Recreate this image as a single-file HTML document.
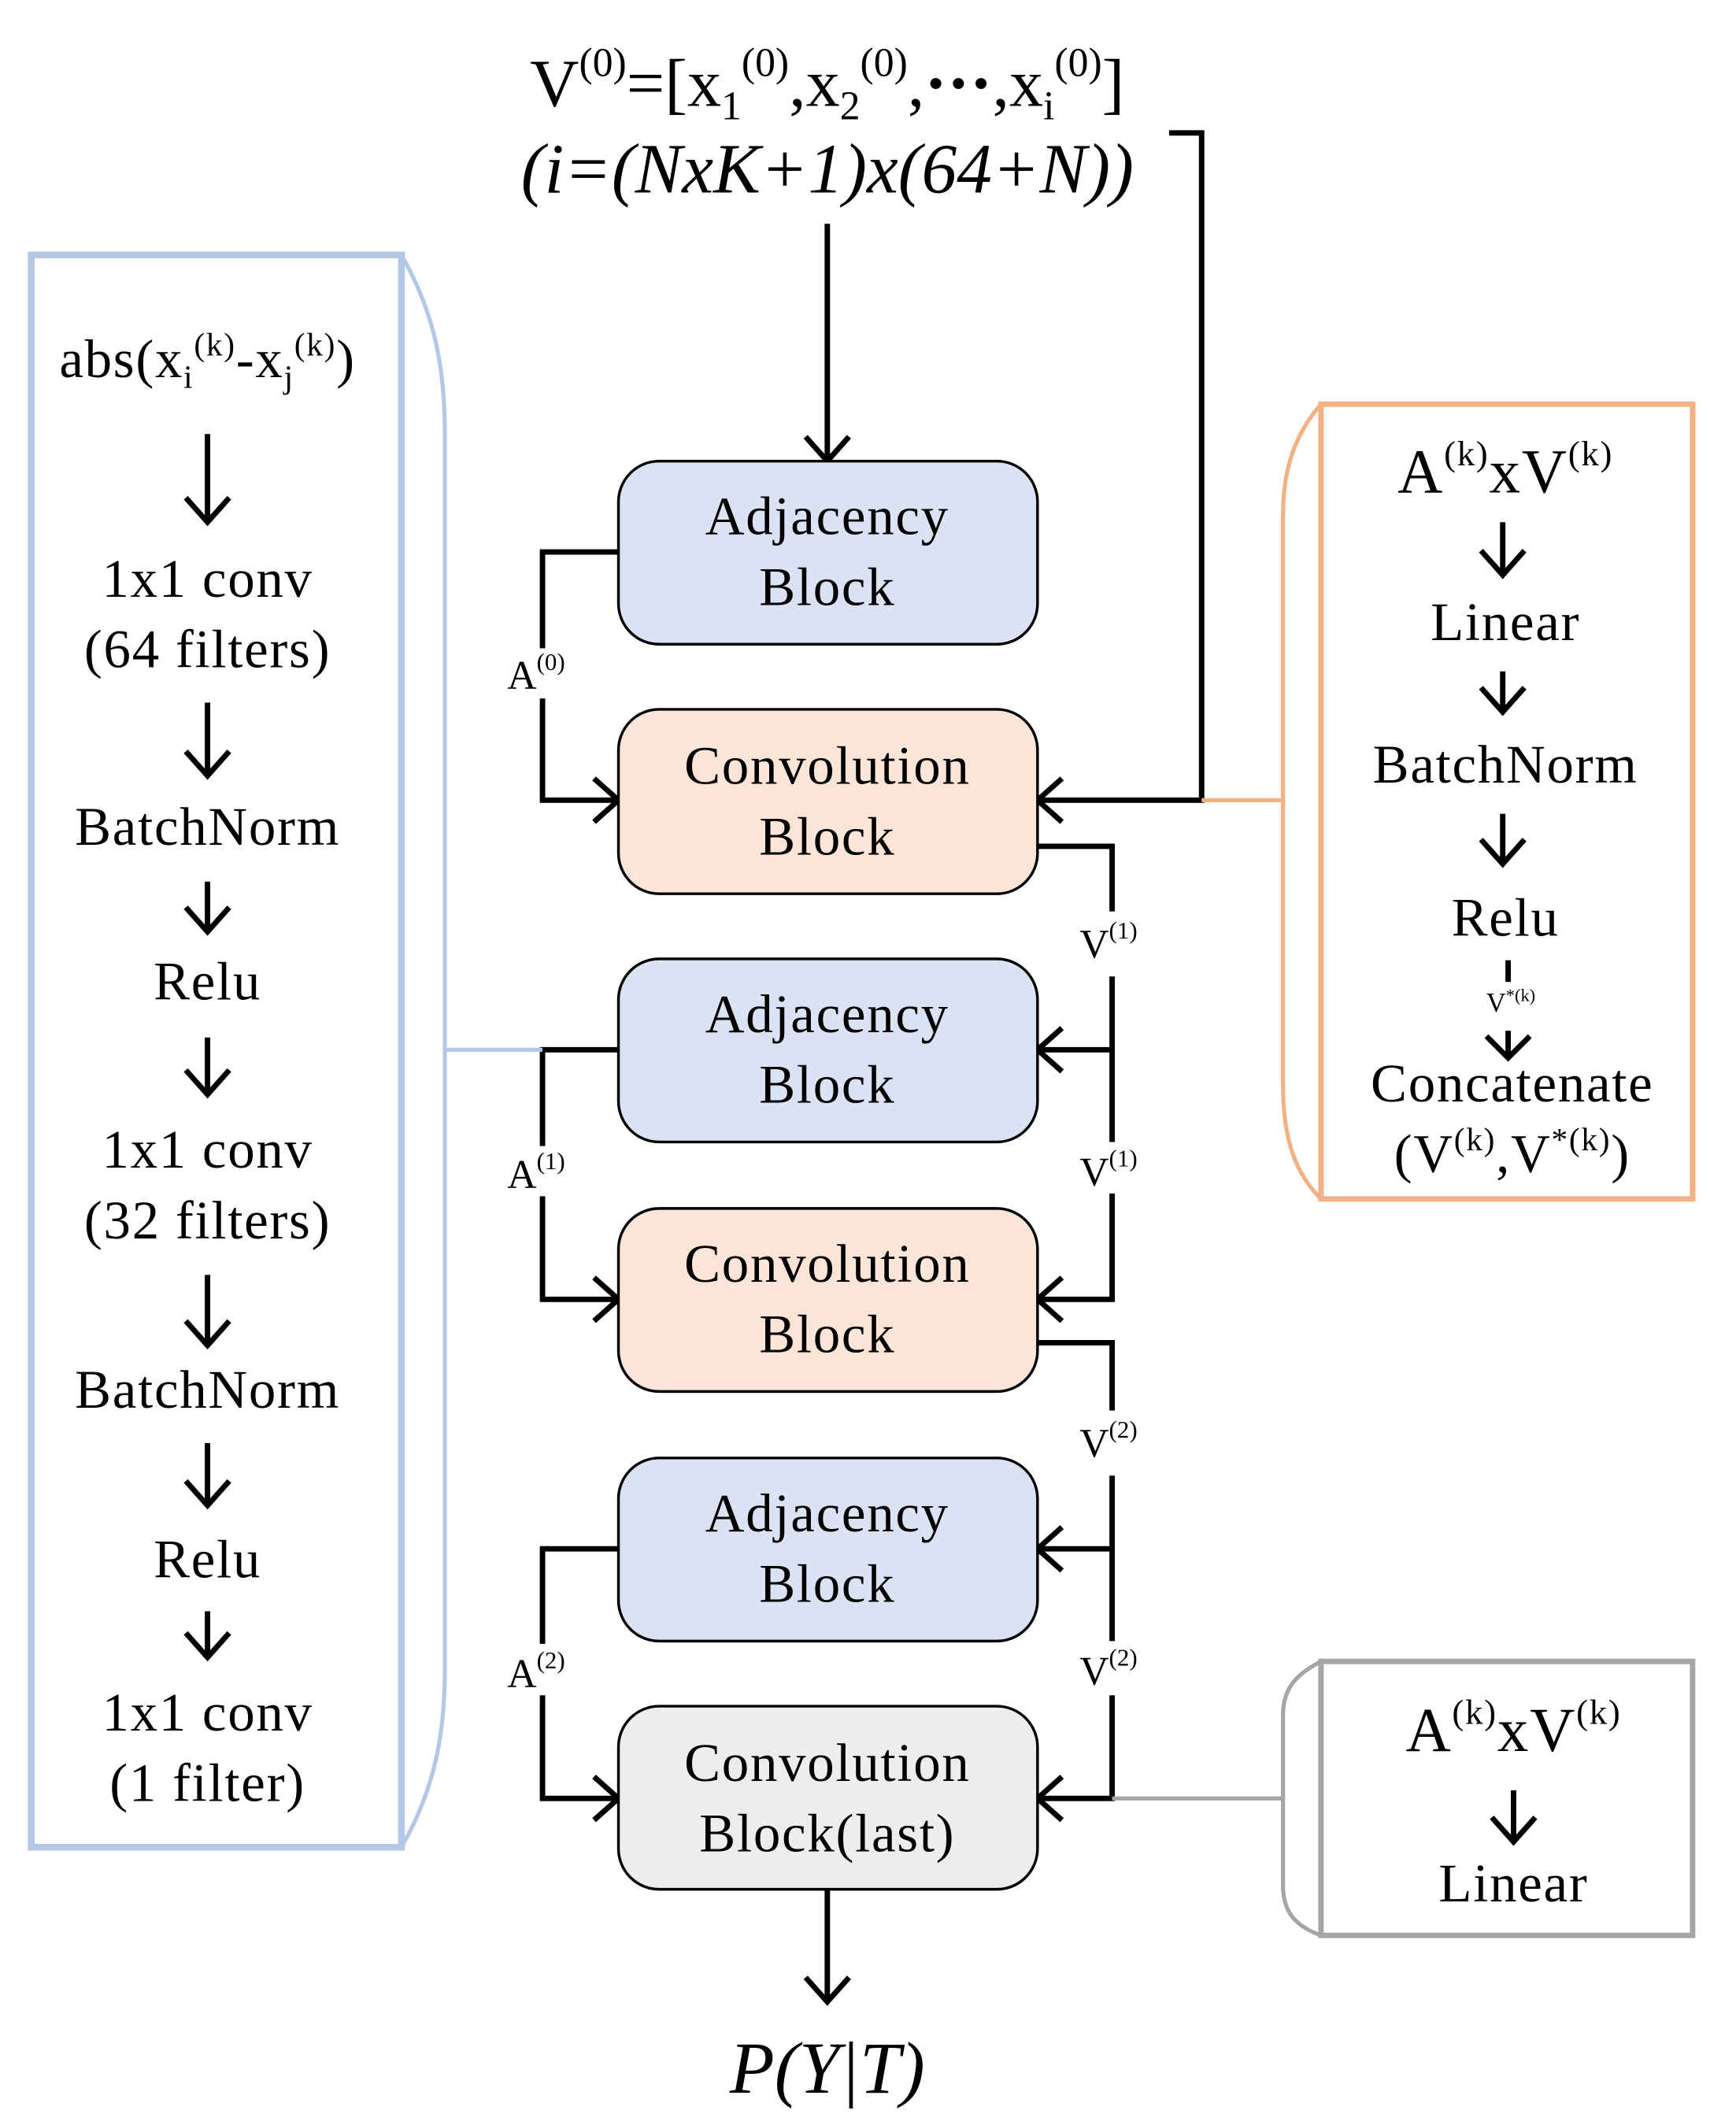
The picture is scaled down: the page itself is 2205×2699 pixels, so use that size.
<!DOCTYPE html>
<html><head><meta charset="utf-8"><style>
html,body{margin:0;padding:0;background:#fff;}
svg{display:block;}
text{font-family:"Liberation Serif",serif;fill:#000;}
</style></head><body>
<svg width="2205" height="2699" viewBox="0 0 1280 1566.8" xmlns="http://www.w3.org/2000/svg">
<g font-size="50" text-anchor="middle">
<text x="610" y="78">V<tspan font-size="30" dy="-22">(0)</tspan><tspan dy="22">=[x</tspan><tspan font-size="30" dy="10">1</tspan><tspan font-size="30" dy="-32">(0)</tspan><tspan dy="22">,x</tspan><tspan font-size="30" dy="10">2</tspan><tspan font-size="30" dy="-32">(0)</tspan><tspan dy="22">,<tspan font-weight="bold">···</tspan>,x</tspan><tspan font-size="30" dy="10">i</tspan><tspan font-size="30" dy="-32">(0)</tspan><tspan dy="22">]</tspan></text>
<text x="610" y="142" font-style="italic" font-size="52">(i=(NxK+1)x(64+N))</text>
</g>
<g fill="none" stroke="#000" stroke-width="4">
<line x1="610" y1="165" x2="610" y2="338"/><polyline points="594,322 610,340 626,322"/>
<polyline points="862,98 886,98 886,590 765,590"/><polyline points="783,574 765,590 783,606"/>
<polyline points="456,407 400,407 400,478"/><polyline points="400,515 400,590 454,590"/><polyline points="438,574 456,590 438,606"/>
<polyline points="456,774 400,774 400,845"/><polyline points="400,882 400,958 454,958"/><polyline points="438,942 456,958 438,974"/>
<polyline points="456,1142 400,1142 400,1212"/><polyline points="400,1250 400,1326 454,1326"/><polyline points="438,1310 456,1326 438,1342"/>
<polyline points="765,624 820,624 820,672"/>
<line x1="820" y1="720" x2="820" y2="842"/><line x1="820" y1="774" x2="767" y2="774"/><polyline points="783,758 765,774 783,790"/>
<polyline points="820,880 820,958 767,958"/><polyline points="783,942 765,958 783,974"/>
<polyline points="765,990 820,990 820,1040"/>
<line x1="820" y1="1088" x2="820" y2="1210"/><line x1="820" y1="1142" x2="767" y2="1142"/><polyline points="783,1126 765,1142 783,1158"/>
<polyline points="820,1250 820,1326 767,1326"/><polyline points="783,1310 765,1326 783,1342"/>
<line x1="610" y1="1393" x2="610" y2="1474"/><polyline points="594,1458 610,1476 626,1458"/>
</g>
<g stroke="#000" stroke-width="2">
<rect x="456" y="340" width="309" height="135" rx="30" fill="#dae3f3"/>
<rect x="456" y="523" width="309" height="136" rx="30" fill="#fbe5d6"/>
<rect x="456" y="707" width="309" height="135" rx="30" fill="#dae3f3"/>
<rect x="456" y="891" width="309" height="135" rx="30" fill="#fbe5d6"/>
<rect x="456" y="1075" width="309" height="135" rx="30" fill="#dae3f3"/>
<rect x="456" y="1258" width="309" height="135" rx="30" fill="#ededed"/>
</g>
<g font-size="40" text-anchor="middle" letter-spacing="1">
<text x="610" y="394">Adjacency</text><text x="610" y="446">Block</text>
<text x="610" y="578">Convolution</text><text x="610" y="630">Block</text>
<text x="610" y="761">Adjacency</text><text x="610" y="813">Block</text>
<text x="610" y="945">Convolution</text><text x="610" y="997">Block</text>
<text x="610" y="1129">Adjacency</text><text x="610" y="1181">Block</text>
<text x="610" y="1313">Convolution</text><text x="610" y="1365">Block(last)</text>
</g>
<g font-size="30">
<text x="374" y="508">A<tspan font-size="18" dy="-14">(0)</tspan></text>
<text x="374" y="876">A<tspan font-size="18" dy="-14">(1)</tspan></text>
<text x="374" y="1244">A<tspan font-size="18" dy="-14">(2)</tspan></text>
<text x="796" y="706">V<tspan font-size="18" dy="-14">(1)</tspan></text>
<text x="796" y="874">V<tspan font-size="18" dy="-14">(1)</tspan></text>
<text x="796" y="1074">V<tspan font-size="18" dy="-14">(2)</tspan></text>
<text x="796" y="1242">V<tspan font-size="18" dy="-14">(2)</tspan></text>
</g>
<text x="610" y="1543" font-size="54" font-style="italic" text-anchor="middle">P(Y|T)</text>
<g fill="none" stroke="#b4c7e7">
<rect x="23" y="188" width="273" height="1174" stroke-width="5"/>
<path d="M296,188 C320,230 328,270 328,320 L328,1230 C328,1280 320,1320 296,1362" stroke-width="3"/>
<line x1="328" y1="774" x2="400" y2="774" stroke-width="3"/>
</g>
<g font-size="40" text-anchor="middle" letter-spacing="1">
<text x="153" y="278">abs(x<tspan font-size="24" dy="8">i</tspan><tspan font-size="24" dy="-24">(k)</tspan><tspan dy="16">-x</tspan><tspan font-size="24" dy="8">j</tspan><tspan font-size="24" dy="-24">(k)</tspan><tspan dy="16">)</tspan></text>
<text x="153" y="440">1x1 conv</text><text x="153" y="492">(64 filters)</text>
<text x="153" y="623">BatchNorm</text>
<text x="153" y="737">Relu</text>
<text x="153" y="861">1x1 conv</text><text x="153" y="913">(32 filters)</text>
<text x="153" y="1038">BatchNorm</text>
<text x="153" y="1163">Relu</text>
<text x="153" y="1276">1x1 conv</text><text x="153" y="1328">(1 filter)</text>
</g>
<g fill="none" stroke="#000" stroke-width="4">
<line x1="153" y1="320" x2="153" y2="383"/><polyline points="137,367 153,385 169,367"/>
<line x1="153" y1="518" x2="153" y2="570"/><polyline points="137,554 153,572 169,554"/>
<line x1="153" y1="650" x2="153" y2="685"/><polyline points="137,669 153,687 169,669"/>
<line x1="153" y1="765" x2="153" y2="805"/><polyline points="137,789 153,807 169,789"/>
<line x1="153" y1="940" x2="153" y2="990"/><polyline points="137,974 153,992 169,974"/>
<line x1="153" y1="1064" x2="153" y2="1108"/><polyline points="137,1092 153,1110 169,1092"/>
<line x1="153" y1="1188" x2="153" y2="1220"/><polyline points="137,1204 153,1222 169,1204"/>
</g>
<g fill="none" stroke="#f4b183">
<rect x="974" y="298" width="274" height="586" stroke-width="4"/>
<path d="M974,298 C955,320 946,345 946,380 L946,800 C946,840 955,865 974,884" stroke-width="3"/>
<line x1="886" y1="590" x2="946" y2="590" stroke-width="3"/>
</g>
<g font-size="40" text-anchor="middle" letter-spacing="1">
<text x="1110" y="363" font-size="46">A<tspan font-size="26" dy="-20">(k)</tspan><tspan dy="20">xV</tspan><tspan font-size="26" dy="-20">(k)</tspan></text>
<text x="1110" y="472">Linear</text>
<text x="1110" y="577">BatchNorm</text>
<text x="1110" y="690">Relu</text>
<text x="1114" y="746" font-size="20" letter-spacing="0">V<tspan font-size="13" dy="-8">*(k)</tspan></text>
<text x="1115" y="812">Concatenate</text>
<text x="1115" y="864">(V<tspan font-size="24" dy="-16">(k)</tspan><tspan dy="16">,V</tspan><tspan font-size="24" dy="-16">*(k)</tspan><tspan dy="16">)</tspan></text>
</g>
<g fill="none" stroke="#000" stroke-width="4">
<line x1="1108" y1="385" x2="1108" y2="422"/><polyline points="1092,406 1108,424 1124,406"/>
<line x1="1108" y1="495" x2="1108" y2="523"/><polyline points="1092,507 1108,525 1124,507"/>
<line x1="1108" y1="600" x2="1108" y2="635"/><polyline points="1092,619 1108,637 1124,619"/>
<line x1="1112" y1="708" x2="1112" y2="724"/>
<line x1="1112" y1="760" x2="1112" y2="778"/><polyline points="1096,764 1112,780 1128,764"/>
</g>
<g fill="none" stroke="#a5a5a5">
<rect x="974" y="1225" width="274" height="202" stroke-width="4"/>
<path d="M974,1225 C955,1235 946,1245 946,1265 L946,1390 C946,1410 955,1420 974,1427" stroke-width="3"/>
<line x1="820" y1="1326" x2="946" y2="1326" stroke-width="3"/>
</g>
<g font-size="40" text-anchor="middle" letter-spacing="1">
<text x="1116" y="1291" font-size="46">A<tspan font-size="26" dy="-20">(k)</tspan><tspan dy="20">xV</tspan><tspan font-size="26" dy="-20">(k)</tspan></text>
<text x="1116" y="1402">Linear</text>
</g>
<g fill="none" stroke="#000" stroke-width="4">
<line x1="1116" y1="1320" x2="1116" y2="1356"/><polyline points="1100,1340 1116,1358 1132,1340"/>
</g>
</svg>
</body></html>
